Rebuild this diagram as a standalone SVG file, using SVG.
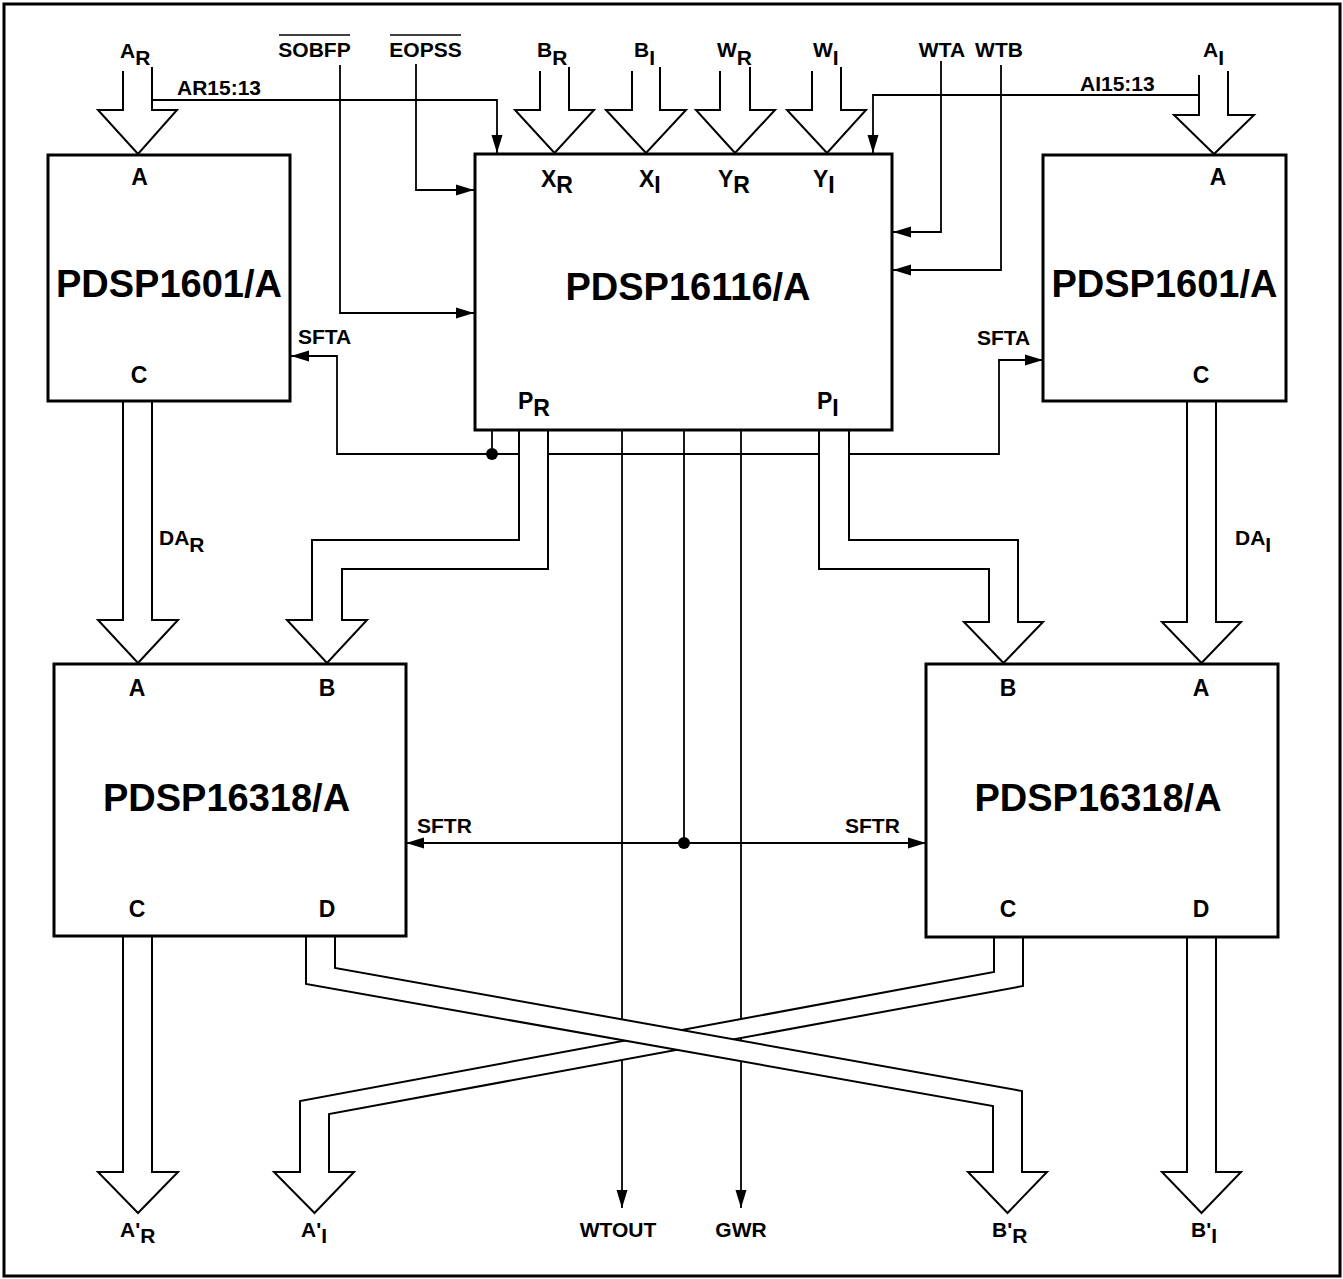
<svg xmlns="http://www.w3.org/2000/svg" width="1343" height="1279" viewBox="0 0 1343 1279">
<style>
.frame{fill:#fff;stroke:#000;stroke-width:3}
.blk{fill:#fff;stroke:#000;stroke-width:3}
.bus{fill:#fff;stroke:#000;stroke-width:2;stroke-linejoin:miter}
.sig{fill:none;stroke:#000;stroke-width:1.8}
.bar{stroke:#000;stroke-width:1.5}
text{font-family:"Liberation Sans",Arial,Helvetica,sans-serif;font-weight:bold;fill:#000}
.l{font-size:21px}
.p{font-size:23px}
.ti{font-size:38px}
.m{text-anchor:middle}
</style>
<defs>
<marker id="ah" markerUnits="userSpaceOnUse" markerWidth="18" markerHeight="12" refX="18" refY="6" orient="auto-start-reverse">
<path d="M0,0.5 L18,6 L0,11.5 z" fill="#000"/>
</marker>
</defs>
<rect class="frame" x="4" y="4" width="1336" height="1272"/>

<g id="connectors">
<g id="signals">
<path class="sig" d="M152,100 H497 V153" marker-end="url(#ah)"/>
<path class="sig" d="M1199,95 H873 V153" marker-end="url(#ah)"/>
<path class="sig" d="M340,65 V313 H474" marker-end="url(#ah)"/>
<path class="sig" d="M416,64 V190 H474" marker-end="url(#ah)"/>
<path class="sig" d="M941,61 V232 H893" marker-end="url(#ah)"/>
<path class="sig" d="M1001,65 V270 H893" marker-end="url(#ah)"/>
<path class="sig" d="M291,356 H337 V454 H999 V360 H1043" marker-start="url(#ah)" marker-end="url(#ah)"/>
<path class="sig" d="M492,430 V454"/>
<circle cx="492" cy="454" r="6" fill="#000"/>
<path class="sig" d="M622,430 V1208" marker-end="url(#ah)"/>
<path class="sig" d="M741,430 V1208" marker-end="url(#ah)"/>
<path class="sig" d="M684,430 V843"/>
<path class="sig" d="M406,843 H926" marker-start="url(#ah)" marker-end="url(#ah)"/>
<circle cx="684" cy="843" r="6" fill="#000"/>
</g>
<g id="buses">
<path class="bus" d="M123,71 V110 H98 L138,154 L177,110 H152 V67"/>
<path class="bus" d="M540,71 V110 H515 L554.5,153 L594,110 H569 V67"/>
<path class="bus" d="M632,71 V110 H606 L646,153 L686,110 H660 V67"/>
<path class="bus" d="M720,71 V110 H696 L735,153 L775,110 H750 V67"/>
<path class="bus" d="M812,71 V110 H787 L827,153 L866,110 H841 V67"/>
<path class="bus" d="M1199,75 V115 H1174 L1214,154 L1254,115 H1228 V71"/>
<path class="bus" d="M123,401 V620 H98 L138,663 L178,620 H152 V401"/>
<path class="bus" d="M519,430 V540 H312 V620 H287 L327,663 L367,620 H342 V569 H548 V430"/>
<path class="bus" d="M819,430 V569 H989 V622 H964 L1003.5,663 L1043,622 H1018 V540 H849 V430"/>
<path class="bus" d="M1187,401 V622 H1162 L1201.5,663 L1241,622 H1216 V401"/>
<path class="bus" d="M123,936 V1172 H98 L138,1213 L178,1172 H152 V936"/>
<path class="bus" d="M994,937 V972 L300,1101 V1172 H274 L314.5,1213 L354,1172 H329 V1114 L1023,986 V937"/>
<path class="bus" d="M306,936 V984 L993,1106 V1172 H968 L1007.5,1213 L1047,1172 H1022 V1091 L335,968 V936"/>
<path class="bus" d="M1187,937 V1172 H1162 L1201.5,1213 L1241,1172 H1216 V937"/>
</g>
</g>

<g id="node-pdsp1601-left">
<rect class="blk" x="48" y="155" width="242" height="246"/>
<text class="p m" x="139.5" y="185">A</text>
<text class="ti m" x="169" y="297">PDSP1601/A</text>
<text class="p m" x="139" y="383">C</text>
</g>
<g id="node-pdsp16116">
<rect class="blk" x="475" y="154" width="417" height="276"/>
<text class="p" x="541" y="187">X<tspan dy="6">R</tspan></text>
<text class="p" x="639" y="187">X<tspan dy="6">I</tspan></text>
<text class="p" x="718" y="187">Y<tspan dy="6">R</tspan></text>
<text class="p" x="813" y="187">Y<tspan dy="6">I</tspan></text>
<text class="ti m" x="688" y="300">PDSP16116/A</text>
<text class="p" x="518" y="409">P<tspan dy="7">R</tspan></text>
<text class="p" x="817" y="409">P<tspan dy="7">I</tspan></text>
</g>
<g id="node-pdsp1601-right">
<rect class="blk" x="1043" y="155" width="243" height="246"/>
<text class="p m" x="1218" y="185">A</text>
<text class="ti m" x="1164.5" y="297">PDSP1601/A</text>
<text class="p m" x="1201" y="383">C</text>
</g>
<g id="node-pdsp16318-left">
<rect class="blk" x="54" y="664" width="352" height="272"/>
<text class="p m" x="137" y="696">A</text>
<text class="p m" x="327" y="696">B</text>
<text class="ti m" x="226.5" y="811">PDSP16318/A</text>
<text class="p m" x="137" y="917">C</text>
<text class="p m" x="327" y="917">D</text>
</g>
<g id="node-pdsp16318-right">
<rect class="blk" x="926" y="664" width="352" height="273"/>
<text class="p m" x="1008" y="696">B</text>
<text class="p m" x="1201" y="696">A</text>
<text class="ti m" x="1098" y="811">PDSP16318/A</text>
<text class="p m" x="1008" y="917">C</text>
<text class="p m" x="1201" y="917">D</text>
</g>

<g id="labels">
<text class="l" x="120" y="58">A<tspan dy="7">R</tspan></text>
<text class="l m" x="314.5" y="57">SOBFP</text>
<line class="bar" x1="279" y1="35" x2="350" y2="35"/>
<text class="l m" x="425.5" y="57">EOPSS</text>
<line class="bar" x1="390" y1="35" x2="461" y2="35"/>
<text class="l" x="537" y="57">B<tspan dy="8">R</tspan></text>
<text class="l" x="634" y="57">B<tspan dy="8">I</tspan></text>
<text class="l" x="717" y="57">W<tspan dy="8">R</tspan></text>
<text class="l" x="813" y="57">W<tspan dy="8">I</tspan></text>
<text class="l m" x="942" y="57">WTA</text>
<text class="l m" x="999" y="57">WTB</text>
<text class="l" x="1203" y="57">A<tspan dy="8">I</tspan></text>
<text class="l" x="177" y="95">AR15:13</text>
<text class="l" x="1080" y="91">AI15:13</text>
<text class="l" x="298" y="344">SFTA</text>
<text class="l" x="977" y="345">SFTA</text>
<text class="l" x="159" y="545">DA<tspan dy="7">R</tspan></text>
<text class="l" x="1235" y="545">DA<tspan dy="7">I</tspan></text>
<text class="l" x="417" y="833">SFTR</text>
<text class="l" x="845" y="833">SFTR</text>
<text class="l" x="120" y="1237">A'<tspan dy="6">R</tspan></text>
<text class="l" x="301" y="1237">A'<tspan dy="6">I</tspan></text>
<text class="l m" x="618" y="1237">WTOUT</text>
<text class="l m" x="741" y="1237">GWR</text>
<text class="l" x="992" y="1237">B'<tspan dy="6">R</tspan></text>
<text class="l" x="1191" y="1237">B'<tspan dy="6">I</tspan></text>
</g>
</svg>
